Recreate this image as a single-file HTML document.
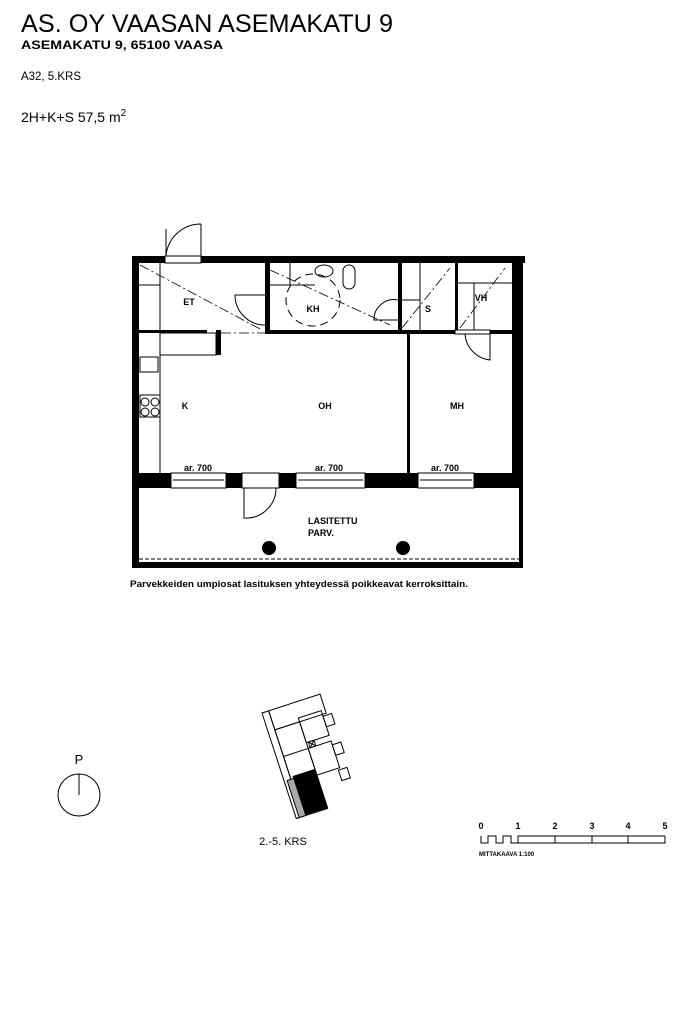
<!DOCTYPE html>
<html><head><meta charset="utf-8"><style>
body{margin:0;width:691px;height:1013px;background:#fff;overflow:hidden;font-family:"Liberation Sans",sans-serif}
</style></head><body>
<svg width="691" height="1013" viewBox="0 0 691 1013" xmlns="http://www.w3.org/2000/svg" font-family="Liberation Sans, sans-serif">
<text x="21" y="32" font-size="25" textLength="372" lengthAdjust="spacingAndGlyphs">AS. OY VAASAN ASEMAKATU 9</text>
<text x="21" y="49" font-size="11.5" font-weight="bold" textLength="202" lengthAdjust="spacingAndGlyphs">ASEMAKATU 9, 65100 VAASA</text>
<text x="21" y="80" font-size="11.5" textLength="60" lengthAdjust="spacingAndGlyphs">A32, 5.KRS</text>
<text x="21" y="122" font-size="14">2H+K+S 57,5 m<tspan font-size="10" dy="-6">2</tspan></text>
<g fill="#000">
<rect x="132" y="256" width="393" height="7"/>
<rect x="132" y="256" width="7" height="232"/>
<rect x="512" y="256" width="11" height="232"/>
<rect x="132" y="473" width="391" height="15"/>
<rect x="265" y="263" width="5" height="70"/>
<rect x="265" y="330" width="247" height="4"/>
<rect x="407" y="334" width="3" height="139"/>
<rect x="398" y="263" width="4" height="67"/>
<rect x="455" y="263" width="3" height="67"/>
<rect x="216" y="330" width="5" height="25"/>
<rect x="132" y="330" width="75" height="3"/>
<rect x="132" y="488" width="7" height="80"/>
<rect x="519" y="488" width="4" height="80"/>
<rect x="132" y="562" width="391" height="6"/>
<circle cx="269" cy="548" r="7"/>
<circle cx="403" cy="548" r="7"/>
</g>
<g fill="#fff" stroke="#000" stroke-width="1">
<rect x="171" y="473" width="55" height="15"/>
<rect x="242" y="473" width="37" height="15"/>
<rect x="296" y="473" width="69" height="15"/>
<rect x="418" y="473" width="56" height="15"/>
<rect x="165" y="256" width="36" height="7"/>
<rect x="455" y="330" width="35" height="4"/>
</g>
<g fill="none" stroke="#000" stroke-width="1">
<line x1="173" y1="480" x2="224" y2="480"/><line x1="298" y1="480" x2="363" y2="480"/><line x1="420" y1="480" x2="472" y2="480"/>
<path d="M166 256 L166 229 M201 256 L201 224 M166 256 A35 35 0 0 1 201 224"/>
<path d="M265 295 L235 295 A30 30 0 0 0 265 325"/>
<path d="M244 488 L244 518 A30 30 0 0 0 276 488"/>
<path d="M490 334 L490 360 A28 28 0 0 1 465 334"/>
<path d="M398 300 A20 20 0 0 0 374 320 L398 320"/>
<line x1="160" y1="263" x2="160" y2="473"/>
<line x1="139" y1="285" x2="160" y2="285"/>
<rect x="160" y="333" width="56" height="22"/>
<rect x="140" y="357" width="18" height="15"/>
<rect x="140" y="395" width="20" height="22"/>
<circle cx="145" cy="402" r="4"/><circle cx="155" cy="402" r="4"/><circle cx="145" cy="412" r="4"/><circle cx="155" cy="412" r="4"/>
<ellipse cx="324" cy="271" rx="9" ry="6"/><rect x="343" y="265" width="12" height="24" rx="6"/>
<ellipse cx="313" cy="300" rx="27" ry="26" stroke-dasharray="8 5"/>
<line x1="290" y1="263" x2="290" y2="285"/><line x1="270" y1="285" x2="315" y2="285"/>
<line x1="402" y1="300" x2="420" y2="300"/><line x1="420" y1="263" x2="420" y2="330"/>
<line x1="458" y1="283" x2="512" y2="283"/><line x1="474" y1="283" x2="474" y2="330"/>
<line x1="139" y1="559" x2="519" y2="559" stroke-dasharray="4 2"/>
</g>
<g stroke="#000" stroke-width="0.8" stroke-dasharray="10 3 2 3" fill="none">
<line x1="140" y1="265" x2="262" y2="330"/>
<line x1="270" y1="270" x2="390" y2="325"/>
<line x1="402" y1="328" x2="450" y2="268"/>
<line x1="460" y1="328" x2="505" y2="268"/>
<line x1="221" y1="333" x2="265" y2="333"/>
</g>
<g font-size="9" font-weight="bold" text-anchor="middle">
<text x="189" y="305">ET</text><text x="313" y="312">KH</text><text x="428" y="312">S</text><text x="481" y="301">VH</text>
<text x="185" y="409">K</text><text x="325" y="409">OH</text><text x="457" y="409">MH</text>
<text x="198" y="471">ar. 700</text><text x="329" y="471">ar. 700</text><text x="445" y="471">ar. 700</text>
<text x="308" y="524" text-anchor="start">LASITETTU</text><text x="308" y="536" text-anchor="start">PARV.</text>
</g>
<text x="130" y="587" font-size="9.5" font-weight="bold" textLength="338" lengthAdjust="spacingAndGlyphs">Parvekkeiden umpiosat lasituksen yhteydessä poikkeavat kerroksittain.</text>
<text x="79" y="764" font-size="13" text-anchor="middle">P</text>
<circle cx="79" cy="795" r="21" fill="none" stroke="#000"/>
<line x1="79" y1="774" x2="79" y2="795" stroke="#000"/>
<g transform="translate(262,713) rotate(-18)" fill="none" stroke="#000" stroke-width="1">
<rect x="0" y="0" width="61" height="112" fill="none" stroke="none"/>
<rect x="0" y="0" width="7" height="111"/>
<rect x="7" y="0" width="54" height="20"/>
<rect x="7" y="20" width="26" height="91"/>
<line x1="7" y1="48" x2="33" y2="48"/>
<rect x="33" y="16" width="24" height="26"/>
<rect x="57" y="22" width="9" height="11"/>
<rect x="33" y="48" width="24" height="28"/>
<rect x="57" y="52" width="9" height="11"/>
<rect x="55" y="78" width="9" height="11"/>
<rect x="35" y="42" width="6" height="6"/>
<line x1="35" y1="42" x2="41" y2="48"/><line x1="41" y1="42" x2="35" y2="48"/>
<rect x="10" y="70" width="23" height="40" fill="#000"/>
<rect x="3" y="72" width="7" height="39" fill="#aaa"/>
</g>
<text x="283" y="845" font-size="11" text-anchor="middle">2.-5. KRS</text>
<g font-size="9" font-weight="bold" text-anchor="middle">
<text x="481" y="829">0</text><text x="518" y="829">1</text><text x="555" y="829">2</text><text x="592" y="829">3</text><text x="628" y="829">4</text><text x="665" y="829">5</text>
</g>
<path d="M481 836 L481 843 L488 843 L488 836 L496 836 L496 843 L503 843 L503 836 L511 836 L511 843 L518 843 L518 836 L555 836 L555 843 L592 843 L592 836 L628 836 L628 843 L665 843 L665 836 M518 843 L555 843 M555 836 L592 836 M592 843 L628 843 M628 836 L665 836" fill="none" stroke="#000"/>
<text x="479" y="856" font-size="6" font-weight="bold">MITTAKAAVA 1:100</text>
</svg>
</body></html>
